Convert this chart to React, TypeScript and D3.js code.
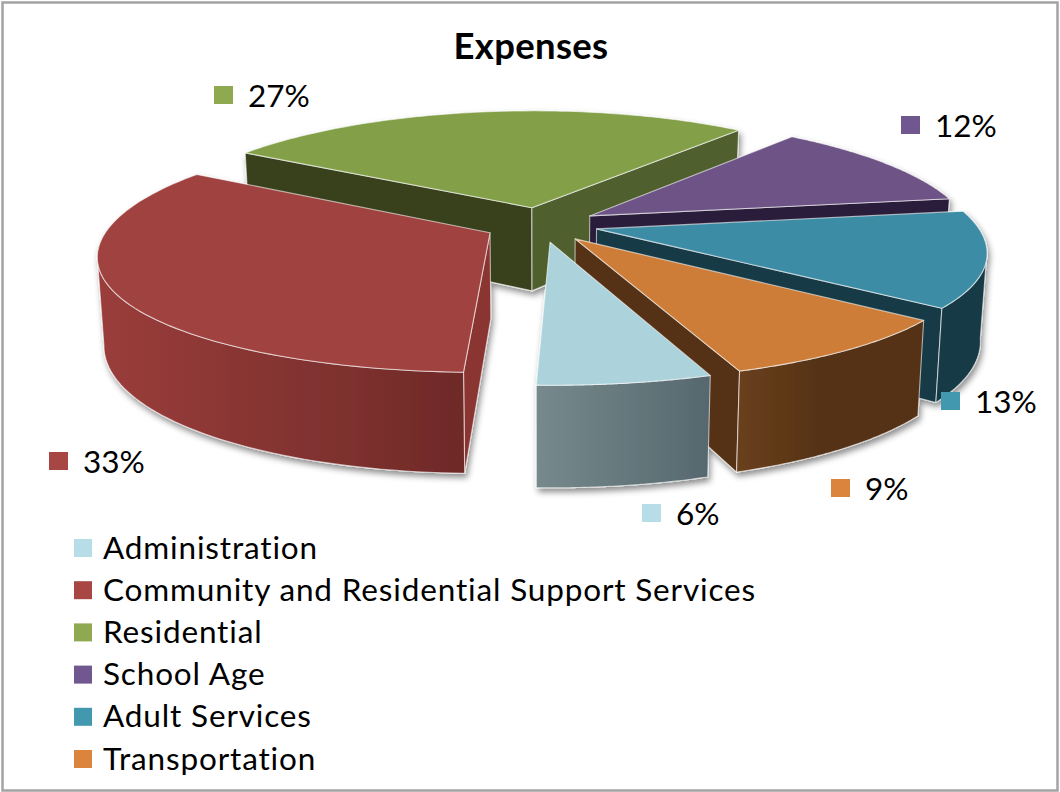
import * as d3 from 'd3';

const categories = ['Administration', 'Community and Residential Support Services', 'Residential', 'School Age', 'Adult Services', 'Transportation'];
const values = [6, 33.4, 26.9, 11.7, 13, 9];

const topColors = ['#acd3dc', '#a04240', '#83a04a', '#6d5386', '#3e8ca6', '#cd7d38'];
const keyColors = ['#b7dee8', '#a84644', '#8ea94f', '#71578f', '#4198af', '#db843d'];
const startWalls = ['#5c6e74', '#8a3533', '#37411c', '#2b1f3a', '#193b47', '#553216'];
const endWalls = ['#5c6e74', '#8a3533', '#50602e', '#2b1f3a', '#193b47', '#553216'];
const rimFrom = ['#76898c', '#9a3d3b', '#50602e', '#2b1f3a', '#193b47', '#6a401c'];
const rimTo = ['#56686e', '#6f2a28', '#37411c', '#2b1f3a', '#193b47', '#553216'];

// where each percent label sits, same order as categories
const labelX = [642, 49, 214, 901, 941, 831];
const labelY = [512, 460, 94, 124, 400, 487];

const width = 1060;
const height = 792;
const cx = 541;
const cy = 224.5;
const R = 380;
const explode = 57;
const depth = 85;
const tilt = 116 / 380;
const perspX = 5.7;
const perspY = 6.7;
const startDeg = 160.3;

const project = (x: number, y: number, z: number): [number, number] => {
  const sx = perspX / (perspX - y / R);
  const sy = perspY / (perspY - y / R);
  return [cx + x * sx * (1 - 0.015 * (z / depth)), cy + y * tilt * sy + z * sy];
};

const pie = d3.pie<number>().sort(null).startAngle((startDeg * Math.PI) / 180).endAngle(((startDeg + 360) * Math.PI) / 180);
const arcs = pie(values);
const line = d3.line();

const slices = arcs.map((a, i) => {
  const mid = (a.startAngle + a.endAngle) / 2;
  const ox = Math.sin(mid) * explode;
  const oy = -Math.cos(mid) * explode;
  const rim = (t: number, z: number) => project(ox + Math.sin(t) * R, oy - Math.cos(t) * R, z);
  const steps = d3.range(0, 81).map((k) => a.startAngle + ((a.endAngle - a.startAngle) * k) / 80);
  const apexTop = project(ox, oy, 0);
  const apexBottom = project(ox, oy, depth);
  const radial = (t: number) => line([apexTop, rim(t, 0), rim(t, depth), apexBottom]) + 'Z';
  // only the part of the rim that faces the viewer gets a wall
  const front = steps.filter((t) => Math.cos(t) < -1 / perspX);
  const outerTop = front.map((t) => rim(t, 0));
  const outerBottom = front.map((t) => rim(t, depth));
  return {
    i,
    mid,
    top: line([apexTop, ...steps.map((t) => rim(t, 0))]) + 'Z',
    wallA: Math.sin(a.startAngle) < 0 ? radial(a.startAngle) : null,
    wallB: Math.sin(a.endAngle) > 0 ? radial(a.endAngle) : null,
    outer: front.length ? line([...outerTop, ...outerBottom.reverse()]) + 'Z' : null,
  };
});

const ordered = d3.sort(slices, (s) => -Math.cos(s.mid));

const legendY = d3.scaleLinear().domain([0, 5]).range([548, 759]);
const edge = { stroke: '#fff', strokeOpacity: 0.6, strokeWidth: 1.1, strokeLinejoin: 'round' as const };
const font = 'Lato, "Open Sans", sans-serif';

export default function App() {
  return (
    <svg width={width} height={height} style={{ position: 'absolute', left: 0, top: 0 }} fontFamily={font}>
      <defs>
        <filter id="shadow" x="-5%" y="-5%" width="110%" height="115%">
          <feDropShadow dx="2" dy="4" stdDeviation="3" floodColor="#000" floodOpacity="0.45" />
        </filter>
        {categories.map((c, i) => (
          <linearGradient key={c} id={`rim${i}`} x1="0" x2="1" y1="0" y2="0">
            <stop offset="0" stopColor={rimFrom[i]} />
            <stop offset={i === 5 ? 0.45 : 1} stopColor={rimTo[i]} />
          </linearGradient>
        ))}
      </defs>
      <rect x={2.5} y={2.5} width={1055} height={788} fill="#fff" stroke="#a3a3a3" strokeWidth={2.5} />
      <text x={531} y={59} textAnchor="middle" fontSize={36.5} fontWeight={700} letterSpacing={0.3}>Expenses</text>
      <g filter="url(#shadow)">
        {ordered.map((s) => (
          <g key={s.i}>
            {s.wallA && <path d={s.wallA} fill={startWalls[s.i]} {...edge} />}
            {s.wallB && <path d={s.wallB} fill={endWalls[s.i]} {...edge} />}
            {s.outer && <path d={s.outer} fill={`url(#rim${s.i})`} {...edge} />}
            <path d={s.top} fill={topColors[s.i]} {...edge} />
          </g>
        ))}
      </g>
      {values.map((v, i) => (
        <g key={categories[i]}>
          <rect x={labelX[i]} y={labelY[i] - 8} width={19} height={18} fill={keyColors[i]} />
          <text x={labelX[i] + 34} y={labelY[i] + 13} fontSize={31.5}>{Math.round(v)}%</text>
        </g>
      ))}
      {categories.map((c, i) => (
        <g key={c}>
          <rect x={74} y={legendY(i) - 9} width={18} height={18} fill={keyColors[i]} />
          <text x={103} y={legendY(i) + 10.5} fontSize={31.5} letterSpacing={0.85}>{c}</text>
        </g>
      ))}
    </svg>
  );
}
